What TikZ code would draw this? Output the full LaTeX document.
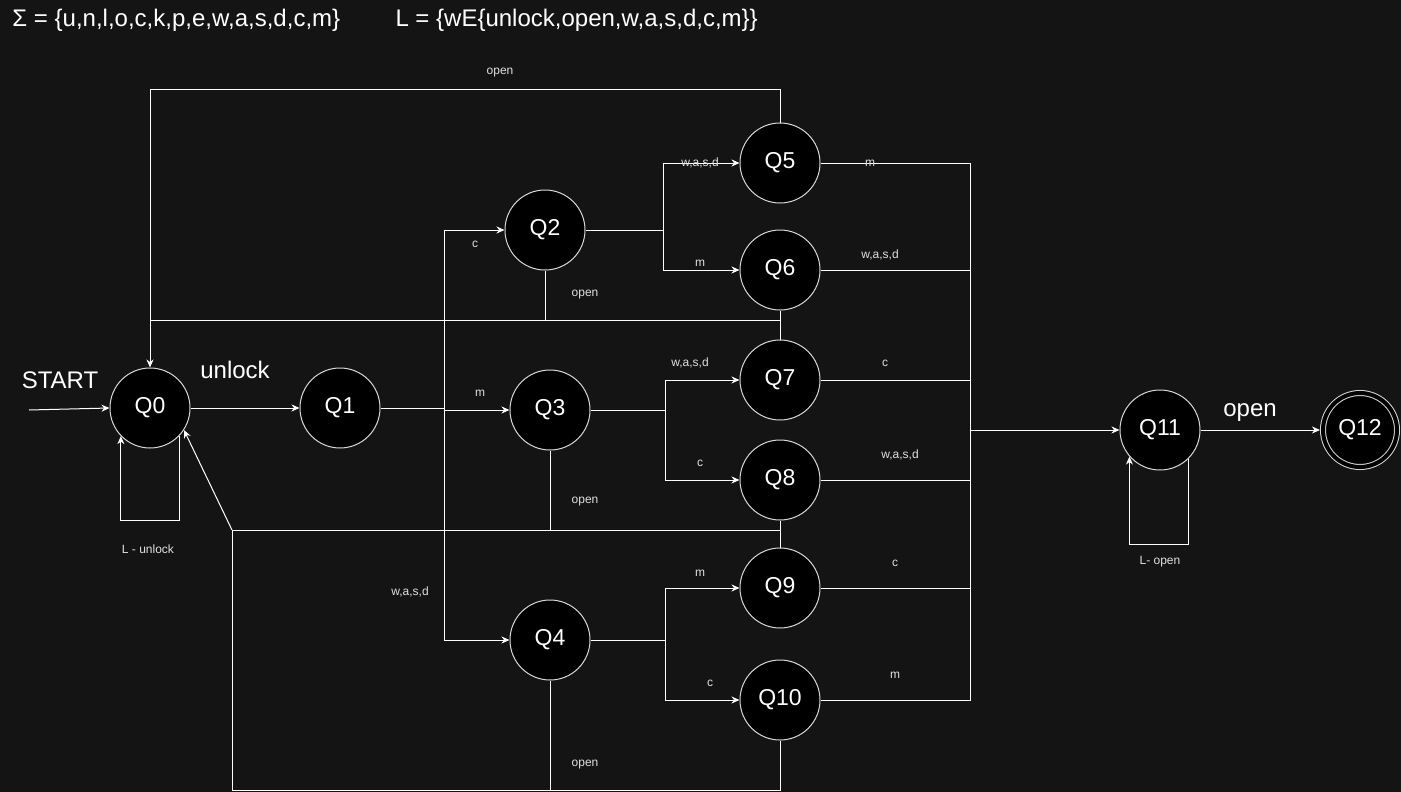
\documentclass[tikz,border=0pt]{standalone}
\usepackage{fontspec}
\setmainfont{Liberation Sans}
\usetikzlibrary{arrows.meta}
\definecolor{bg}{HTML}{141414}
\definecolor{rim}{HTML}{D8D8D8}
\definecolor{soft}{HTML}{E0E0E0}

\begin{document}
\begin{tikzpicture}[x=1pt, y=-1pt, color=white, line width=1pt,
    >={Stealth[length=8pt, width=7pt]},
    state/.style={circle, draw=rim, fill=black, minimum size=80pt, inner sep=0pt,
        font=\fontsize{23}{27}\selectfont},
    accept/.style={state, double=black, double distance=4pt, minimum size=74pt, outer sep=3pt},
    lbl/.style={text=soft, font=\fontsize{12}{14}\selectfont, inner sep=1pt},
    big/.style={font=\fontsize{24}{28}\selectfont}]
    % background
    \fill[bg] (0,0) rectangle (1401,792);
    \useasboundingbox (0,0) rectangle (1401,792);
    % alphabet and language
    \node[big, anchor=west, inner sep=0pt] (sigma) at (12,20) {Σ = \{u,n,l,o,c,k,p,e,w,a,s,d,c,m\}};
    \node[big, anchor=west, inner sep=0pt] (lang) at (395,20) {L = \{wE\{unlock,open,w,a,s,d,c,m\}\}};
    % states
    \node[state] (q0) at (150,408) {Q0};
    \node[state] (q1) at (340,408) {Q1};
    \node[state] (q2) at (545,230) {Q2};
    \node[state] (q3) at (550,410) {Q3};
    \node[state] (q4) at (550,640) {Q4};
    \node[state] (q5) at (780,163) {Q5};
    \node[state] (q6) at (780,270) {Q6};
    \node[state] (q7) at (780,380) {Q7};
    \node[state] (q8) at (780,480) {Q8};
    \node[state] (q9) at (780,588) {Q9};
    \node[state] (q10) at (780,700) {Q10};
    \node[state] (q11) at (1160,430) {Q11};
    \node[accept] (q12) at (1360,430) {Q12};
    % junctions
    \coordinate (in) at (29,410);
    \coordinate (s1) at (444,408);
    \coordinate (s2) at (663,230);
    \coordinate (s3) at (665,410);
    \coordinate (s4) at (665,640);
    \coordinate (m) at (970,430);
    \coordinate (o1) at (780,320);
    \coordinate (o2) at (232,530);
    \coordinate (o3) at (232,790);
    % start and unlock
    \draw[->] (in) -- (q0.west);
    \node[big] (start) at (60,380) {START};
    \draw[->] (q0) -- (q1);
    \node[big] (unlock) at (235,370) {unlock};
    \draw[->] (q0.-44) -- ++(0,84) -| (q0.-136);
    \node[lbl] (lunlock) at (148,549) {L - unlock};
    % first choice
    \draw (q1.east) -- (s1);
    \draw[->] (s1) |- (q2.west);
    \draw[->] (s1) |- (q3.west);
    \draw[->] (s1) |- (q4.west);
    \node[lbl] (lc2) at (475,244) {c};
    \node[lbl] (lm3) at (480,393) {m};
    \node[lbl] (lw4) at (410,592) {w,a,s,d};
    % second choice
    \draw (q2.east) -- (s2);
    \draw[->] (s2) |- (q5.west);
    \draw[->] (s2) |- (q6.west);
    \draw (q3.east) -- (s3);
    \draw[->] (s3) |- (q7.west);
    \draw[->] (s3) |- (q8.west);
    \draw (q4.east) -- (s4);
    \draw[->] (s4) |- (q9.west);
    \draw[->] (s4) |- (q10.west);
    \node[lbl] (lw5) at (700,163) {w,a,s,d};
    \node[lbl] (lm6) at (700,263) {m};
    \node[lbl] (lw7) at (690,363) {w,a,s,d};
    \node[lbl] (lc8) at (700,463) {c};
    \node[lbl] (lm9) at (700,573) {m};
    \node[lbl] (lc10) at (710,683) {c};
    % third choice
    \foreach \q in {q5,q6,q7,q8,q9,q10}
        \draw (\q.east) -| (m);
    \draw[->] (m) -- (q11.west);
    \node[lbl] (lm5) at (870,163) {m};
    \node[lbl] (lw6) at (880,255) {w,a,s,d};
    \node[lbl] (lc7) at (885,363) {c};
    \node[lbl] (lw8) at (900,455) {w,a,s,d};
    \node[lbl] (lc9) at (895,563) {c};
    \node[lbl] (lm10) at (895,675) {m};
    % open
    \draw[->] (q11) -- (q12);
    \node[big] (lopen) at (1250,413) {open};
    \draw[->] (q11.-45) -- ++(0,86) -| (q11.-139);
    \node[lbl] (lloop) at (1160,562) {L- open};
    % open too early: back to Q0
    \draw[->] (q5.north) -- ++(0,-33) -| (q0.north);
    \node[lbl] (lback1) at (500,73) {open};
    \draw (q2.south) |- (o1);
    \draw (o1) -- (q0.north |- o1);
    \draw (q6.south) -- (q7.north);
    \node[lbl] (lback2) at (585,295) {open};
    \draw (q8.south) -- (q9.north);
    \draw (q8.south |- o2) -- (o2) -- (o3) -| (q10.south);
    \draw (q3.south) -- (q3.south |- o2);
    \draw (q4.south) -- (q4.south |- o3);
    \draw[->] (o2) -- (q0.-33);
    \node[lbl] (lback3) at (585,502) {open};
    \node[lbl] (lback4) at (585,765) {open};
\end{tikzpicture}
\end{document}
